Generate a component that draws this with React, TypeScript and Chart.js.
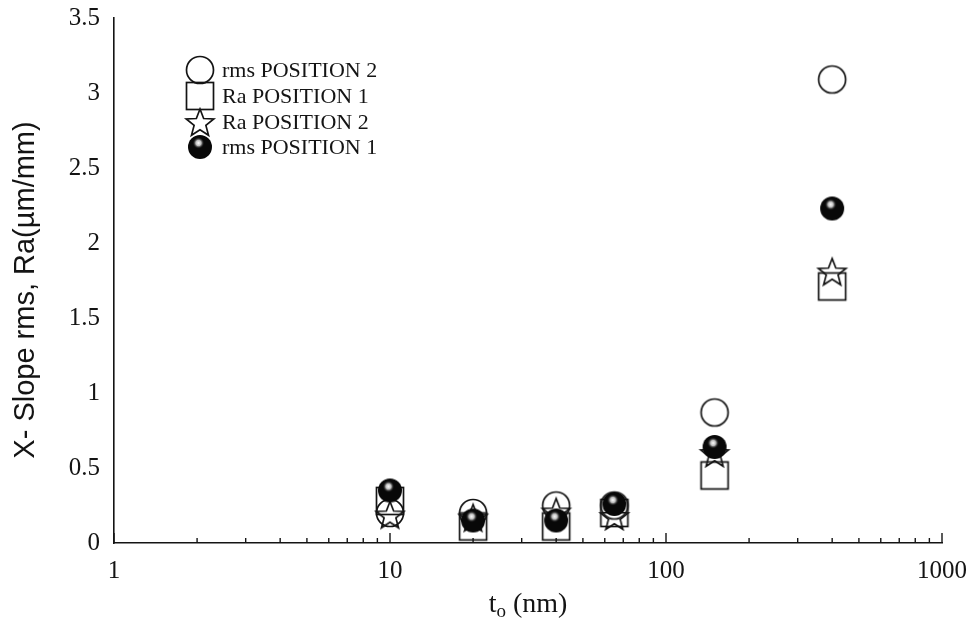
import { useEffect, useRef } from "react";
import { Chart, registerables } from "chart.js";

Chart.register(...registerables);

// Oxide thickness t_o (nm) and the four measured X-slope series (µm/mm)
const thicknessNm = [10, 20, 40, 65, 150, 400];
const rmsPosition2 = [0.2, 0.2, 0.25, 0.25, 0.87, 3.09];
const raPosition1 = [0.28, 0.11, 0.11, 0.2, 0.45, 1.71];
const raPosition2 = [0.19, 0.17, 0.21, 0.18, 0.6, 1.81];
const rmsPosition1 = [0.35, 0.15, 0.15, 0.26, 0.64, 2.23];

const xTickValues = [1, 10, 100, 1000];
const yTickValues = [0, 0.5, 1, 1.5, 2, 2.5, 3, 3.5];

const legendLabels = ["rms POSITION 2", "Ra POSITION 1", "Ra POSITION 2", "rms POSITION 1"];

const INK = "#141414";
const SERIF = "'Liberation Serif', 'Times New Roman', serif";
const SANS = "'Liberation Sans', Arial, sans-serif";

type MarkerKind = "circle" | "square" | "star" | "ball";

function makeMarker(kind: MarkerKind): HTMLCanvasElement {
  const size = 36;
  const c = document.createElement("canvas");
  c.width = size;
  c.height = size;
  const g = c.getContext("2d")!;
  const m = size / 2;
  g.strokeStyle = INK;
  g.lineWidth = 1.7;
  if (kind === "circle") {
    g.beginPath();
    g.arc(m, m, 13.5, 0, Math.PI * 2);
    g.stroke();
  } else if (kind === "square") {
    g.strokeRect(m - 13.5, m - 13.5, 27, 27);
  } else if (kind === "star") {
    const outer = 14.5;
    const inner = 6.2;
    g.beginPath();
    for (let i = 0; i < 10; i++) {
      const r = i % 2 === 0 ? outer : inner;
      const a = -Math.PI / 2 + (i * Math.PI) / 5;
      const px = m + r * Math.cos(a);
      const py = m + 1.5 + r * Math.sin(a);
      if (i === 0) g.moveTo(px, py);
      else g.lineTo(px, py);
    }
    g.closePath();
    g.stroke();
  } else {
    g.fillStyle = "#080808";
    g.beginPath();
    g.arc(m, m, 12, 0, Math.PI * 2);
    g.fill();
    const hx = m - 1.5;
    const hy = m - 4;
    const grad = g.createRadialGradient(hx, hy, 0, hx, hy, 6);
    grad.addColorStop(0, "rgba(255,255,255,1)");
    grad.addColorStop(0.45, "rgba(220,220,220,0.85)");
    grad.addColorStop(1, "rgba(0,0,0,0)");
    g.fillStyle = grad;
    g.beginPath();
    g.arc(hx, hy, 6, 0, Math.PI * 2);
    g.fill();
  }
  return c;
}

const points = (ys: number[]) => thicknessNm.map((x, i) => ({ x, y: ys[i] }));

export default function App() {
  const canvasRef = useRef<HTMLCanvasElement | null>(null);

  useEffect(() => {
    document.body.style.margin = "0";
    const canvas = canvasRef.current;
    if (!canvas) return;

    const markers = {
      circle: makeMarker("circle"),
      square: makeMarker("square"),
      star: makeMarker("star"),
      ball: makeMarker("ball"),
    };
    const legendMarkers = [markers.circle, markers.square, markers.star, markers.ball];

    const decorations = {
      id: "decorations",
      beforeDatasetsDraw(chart: any) {
        const { ctx, chartArea } = chart;
        const xs = chart.scales.x;
        ctx.save();
        ctx.strokeStyle = INK;
        ctx.lineWidth = 1.4;
        // inward tick marks on the logarithmic axis
        for (const t of xs.ticks) {
          const v = t.value;
          const px = xs.getPixelForValue(v);
          const major = Math.abs(Math.log10(v) - Math.round(Math.log10(v))) < 1e-9;
          const len = major ? 10 : 5;
          ctx.beginPath();
          ctx.moveTo(px, chartArea.bottom);
          ctx.lineTo(px, chartArea.bottom - len);
          ctx.stroke();
        }
        ctx.restore();
      },
      afterDraw(chart: any) {
        const { ctx } = chart;
        ctx.save();
        ctx.fillStyle = INK;
        // legend block
        ctx.font = `22px ${SERIF}`;
        ctx.textBaseline = "middle";
        ctx.textAlign = "left";
        const rows = [70, 96, 122, 147];
        legendLabels.forEach((label, i) => {
          const img = legendMarkers[i];
          ctx.drawImage(img, 200 - img.width / 2, rows[i] - img.height / 2);
          ctx.fillText(label, 222, rows[i] + 1);
        });

        // y-axis title
        ctx.save();
        ctx.translate(26, 290);
        ctx.rotate(-Math.PI / 2);
        ctx.font = `29px ${SANS}`;
        ctx.textAlign = "center";
        ctx.textBaseline = "middle";
        ctx.fillText("X- Slope rms, Ra(µm/mm)", 0, 0);
        ctx.restore();

        // x-axis title: t with subscript o, then (nm)
        const main = `28px ${SERIF}`;
        const sub = `19px ${SERIF}`;
        ctx.textBaseline = "alphabetic";
        ctx.font = main;
        const wT = ctx.measureText("t").width;
        const wRest = ctx.measureText(" (nm)").width;
        ctx.font = sub;
        const wO = ctx.measureText("o").width;
        const total = wT + wO + wRest;
        let x0 = 528 - total / 2;
        const base = 612;
        ctx.font = main;
        ctx.fillText("t", x0, base);
        x0 += wT;
        ctx.font = sub;
        ctx.fillText("o", x0, base + 5);
        x0 += wO;
        ctx.font = main;
        ctx.fillText(" (nm)", x0, base);
        ctx.restore();
      },
    };

    const chart = new Chart(canvas, {
      type: "scatter",
      data: {
        datasets: [
          { label: legendLabels[3], data: points(rmsPosition1), pointStyle: markers.ball as any, pointRadius: 12, order: 0 },
          { label: legendLabels[2], data: points(raPosition2), pointStyle: markers.star as any, pointRadius: 12, order: 1 },
          { label: legendLabels[1], data: points(raPosition1), pointStyle: markers.square as any, pointRadius: 12, order: 2 },
          { label: legendLabels[0], data: points(rmsPosition2), pointStyle: markers.circle as any, pointRadius: 12, order: 3 },
        ],
      },
      options: {
        responsive: false,
        animation: false,
        events: [],
        layout: { padding: { left: 0, right: 24, top: 18, bottom: 0 } },
        plugins: { legend: { display: false }, tooltip: { enabled: false }, title: { display: false } },
        scales: {
          x: {
            type: "logarithmic",
            min: 1,
            max: 1000,
            grid: { display: false, drawTicks: false },
            border: { display: true, color: INK, width: 1.6 },
            afterBuildTicks: (s: any) => {
              const all: { value: number }[] = [];
              for (let d = 1; d < 1000; d *= 10) {
                for (let k = 1; k < 10; k++) all.push({ value: d * k });
              }
              all.push({ value: 1000 });
              s.ticks = all;
            },
            ticks: {
              autoSkip: false,
              maxRotation: 0,
              padding: 13,
              color: INK,
              font: { family: SERIF, size: 25 },
              callback: (v: any) => (xTickValues.includes(Number(v)) ? String(v) : ""),
            },
            afterFit: (s: any) => {
              s.height = 85;
              s.paddingLeft = 0;
              s.paddingRight = 0;
            },
          },
          y: {
            min: 0,
            max: 3.5,
            grid: { display: false, drawTicks: false },
            border: { display: true, color: INK, width: 1.6 },
            afterBuildTicks: (s: any) => {
              s.ticks = yTickValues.map((value) => ({ value }));
            },
            ticks: {
              padding: 14,
              color: INK,
              font: { family: SERIF, size: 25 },
              callback: (v: any) => String(v),
            },
            afterFit: (s: any) => {
              s.width = 114;
              s.paddingTop = 0;
              s.paddingBottom = 0;
            },
          },
        },
      },
      plugins: [decorations],
    });

    return () => chart.destroy();
  }, []);

  return (
    <div style={{ width: 966, height: 628, background: "#fff" }}>
      <canvas ref={canvasRef} width={966} height={628} style={{ display: "block" }} />
    </div>
  );
}
